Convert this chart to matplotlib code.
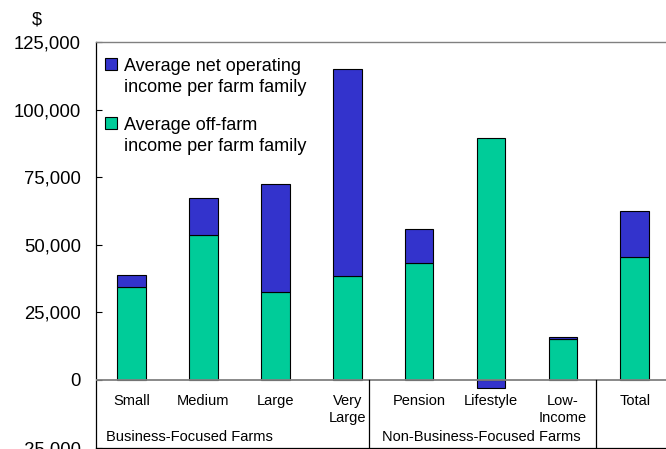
import matplotlib
matplotlib.use("Agg")
import matplotlib.pyplot as plt
from matplotlib.patches import Rectangle

categories = ["Small", "Medium", "Large", "Very\nLarge", "Pension", "Lifestyle", "Low-\nIncome", "Total"]
off_farm = [34300, 53600, 32700, 38300, 43200, 89400, 15300, 45400]
net_operating = [4400, 13700, 39800, 76700, 12700, -3000, 600, 17000]
groups = ["Business-Focused Farms", "Non-Business-Focused Farms"]
legend_labels = ["Average net operating\nincome per farm family", "Average off-farm\nincome per farm family"]
yticks = [-25000, 0, 25000, 50000, 75000, 100000, 125000]

BLUE = "#3333CC"
GREEN = "#00CC99"
FONT = "Liberation Sans"
plt.rcParams["font.family"] = [FONT, "DejaVu Sans"]

fig = plt.figure(figsize=(6.66, 4.49), dpi=100)
W, H = 666, 449
ax = fig.add_axes([96 / W, (H - 447.6) / H, (W - 96) / W, (447.6 - 42) / H])

x = list(range(len(categories)))
bw = 0.40
ax.bar(x, off_farm, width=bw, color=GREEN, edgecolor="black", linewidth=0.8, zorder=3)
bottoms = [o if n >= 0 else 0 for o, n in zip(off_farm, net_operating)]
ax.bar(x, net_operating, width=bw, bottom=bottoms, color=BLUE, edgecolor="black", linewidth=0.8, zorder=3)

ax.set_xlim(-0.494, 7.434)
ax.set_ylim(-25000, 125000)
ax.set_xticks([])
ax.set_yticks(yticks)
ax.set_yticklabels([f"{v:,}" for v in yticks], fontsize=13.3)
ax.tick_params(axis="y", direction="in", length=4, width=0.8, pad=11, colors="black")

ax.spines["right"].set_visible(False)
ax.spines["top"].set_color("#808080")
ax.spines["top"].set_linewidth(1.0)
ax.spines["left"].set_color("black")
ax.spines["left"].set_linewidth(0.9)
ax.spines["bottom"].set_color("black")
ax.spines["bottom"].set_linewidth(0.9)

# zero line
ax.axhline(0, color="#808080", linewidth=1.3, zorder=4)

# group dividers below the zero line
for xd in [3.30, 6.46]:
    ax.plot([xd, xd], [0, -25000], color="black", linewidth=0.9, clip_on=False, zorder=4)

# category labels
for xi, lab in zip(x, categories):
    ax.text(xi, -5200, lab, ha="center", va="top", fontsize=10.5, linespacing=1.25)

ax.text(-0.355, -21000, groups[0], ha="left", va="center", fontsize=10.5)
ax.text(4.87, -21000, groups[1], ha="center", va="center", fontsize=10.5)

# legend (manual, square aligned with first line)
def px2ax(px, py):
    return ((px - 96) / (W - 96), (447.6 - py) / (447.6 - 42))

for (sq_y, txt_y), col, lab in zip([(58, 58), (117, 117)], [BLUE, GREEN], legend_labels):
    ax0, ay0 = px2ax(105, sq_y + 12)
    ax1, ay1 = px2ax(117, sq_y)
    ax.add_patch(Rectangle((ax0, ay0), ax1 - ax0, ay1 - ay0, transform=ax.transAxes,
                           facecolor=col, edgecolor="black", linewidth=0.8, zorder=5))
    tx, ty = px2ax(124, txt_y)
    ax.text(tx, ty, lab, transform=ax.transAxes, ha="left", va="top", fontsize=13, linespacing=1.3)

fig.text(37 / W, 1 - 20 / H, "$", ha="center", va="center", fontsize=13)

fig.savefig("out.png", dpi=100)
